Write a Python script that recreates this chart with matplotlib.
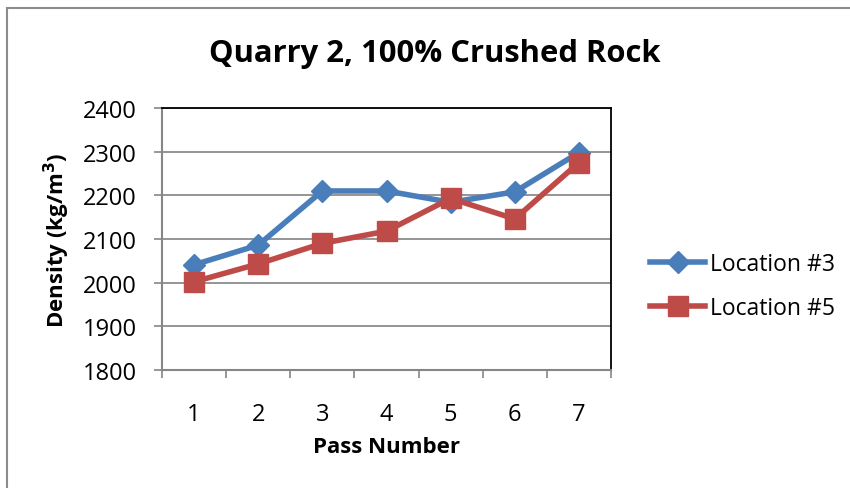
import matplotlib.pyplot as plt
from matplotlib.patches import Rectangle

plt.rcParams['font.family'] = ['Open Sans', 'DejaVu Sans']

passes = [1, 2, 3, 4, 5, 6, 7]
loc3 = [2041, 2086, 2210, 2210, 2184, 2208, 2298]
loc5 = [2002, 2043, 2090, 2118, 2193, 2146, 2275]
yticks = [1800, 1900, 2000, 2100, 2200, 2300, 2400]

fig = plt.figure(figsize=(8.5, 4.89), dpi=100)
ax = fig.add_axes([162 / 850, 1 - 371 / 489, 449 / 850, 262 / 489])

# outer chart frame (only top/left visible in crop)
fig.add_artist(Rectangle((7 / 850, -0.1), 1.2, 1 - 9 / 489 + 0.1,
                         transform=fig.transFigure, fill=False,
                         edgecolor='#8c8c8c', linewidth=1.5))

ax.plot(passes, loc3, color='#4a7ebb', linewidth=4, marker='D', markersize=11,
        label='Location #3', zorder=3)
ax.plot(passes, loc5, color='#be4b48', linewidth=4, marker='s', markersize=14,
        label='Location #5', zorder=4)

ax.set_xlim(0.5, 7.5)
ax.set_ylim(1800, 2400)
ax.set_yticks(yticks)
ax.set_xticks(passes)
ax.set_xticks([p - 0.5 for p in passes] + [7.5], minor=True)
ax.tick_params(axis='x', which='major', length=0, pad=23, labelsize=17)
ax.tick_params(axis='x', which='minor', length=6, color='#868686', width=1.2)
ax.tick_params(axis='y', length=6, color='#868686', width=1.2, pad=12, labelsize=17)

ax.grid(axis='y', color='#8c8c8c', linewidth=1.3)
ax.set_axisbelow(True)
for side in ['left', 'bottom']:
    ax.spines[side].set_color('#868686')
    ax.spines[side].set_linewidth(1.5)
for side in ['top', 'right']:
    ax.spines[side].set_color('black')
    ax.spines[side].set_linewidth(1.3)

fig.text(435 / 850, 1 - 54 / 489, 'Quarry 2, 100% Crushed Rock', fontsize=22.3,
         fontweight='bold', ha='center', va='center')
ax.set_xlabel('Pass Number', fontsize=16, fontweight='bold', va='center')
ax.xaxis.set_label_coords(0.5, (371 - 448) / 262)
ax.set_ylabel('Density (kg/m$^\\mathbf{3}$)', fontsize=16, fontweight='bold', va='center')
ax.yaxis.set_label_coords((57 - 162) / 449, 0.5)

fig.legend(loc='center left', bbox_to_anchor=(650 / 850, 1 - 287 / 489),
           frameon=False, fontsize=16.5, handlelength=2.4, handletextpad=0.22,
           labelspacing=0.9, borderaxespad=0, borderpad=0)

fig.savefig('out.png', dpi=100)
